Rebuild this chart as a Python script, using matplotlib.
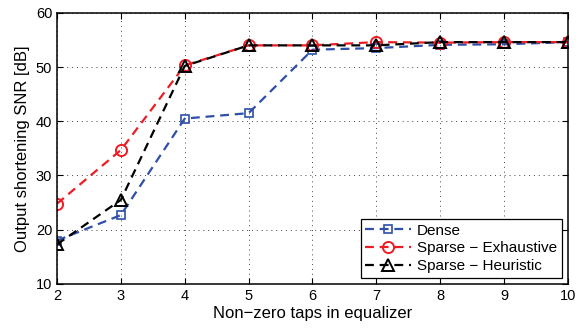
import matplotlib
matplotlib.use('Agg')
import matplotlib.pyplot as plt

plt.rcParams['font.family'] = ['Liberation Sans', 'DejaVu Sans']

# data
taps = [2, 3, 4, 5, 6, 7, 8, 9, 10]
dense = [18.0, 22.7, 40.5, 41.5, 53.2, 53.5, 54.1, 54.2, 54.6]
sparse_exh = [24.8, 34.7, 50.3, 54.0, 54.0, 54.6, 54.5, 54.6, 54.6]
sparse_heu = [17.3, 25.5, 50.2, 54.0, 54.0, 54.0, 54.6, 54.6, 54.6]

fig = plt.figure(figsize=(5.76, 3.29), dpi=100)
ax = fig.add_axes([0.099, 0.137, 0.887, 0.824])

dash = (0, (4, 2.6))
ax.plot(taps, dense, color='#2f4fa8', linestyle=dash, lw=1.6, marker='s',
        markersize=6, markerfacecolor='none', markeredgewidth=1.2, label='Dense')
ax.plot(taps, sparse_exh, color='#ee1c24', linestyle=dash, lw=1.6, marker='o',
        markersize=8, markerfacecolor='none', markeredgewidth=1.4, label='Sparse \u2212 Exhaustive')
ax.plot(taps, sparse_heu, color='black', linestyle=dash, lw=1.6, marker='^',
        markersize=8, markerfacecolor='none', markeredgewidth=1.4, label='Sparse \u2212 Heuristic')

ax.set_xlim(2, 10)
ax.set_ylim(10, 60)
ax.set_xticks(taps)
ax.set_yticks([10, 20, 30, 40, 50, 60])
ax.grid(True, linestyle=(0, (1, 4)), color='#444444', lw=0.7)
ax.tick_params(direction='in', labelsize=10.5, length=4, top=True, right=True)
for s in ax.spines.values():
    s.set_linewidth(1.1)

ax.set_xlabel('Non\u2212zero taps in equalizer', fontsize=12, labelpad=2)
ax.set_ylabel('Output shortening SNR [dB]', fontsize=12, labelpad=4)

leg = ax.legend(loc='lower right', fontsize=11, fancybox=False, framealpha=1,
                edgecolor='black', handlelength=3, borderaxespad=0.4,
                labelspacing=0.25, handletextpad=0.4, borderpad=0.3)
leg.get_frame().set_linewidth(0.9)

fig.savefig('out.png', dpi=100)
